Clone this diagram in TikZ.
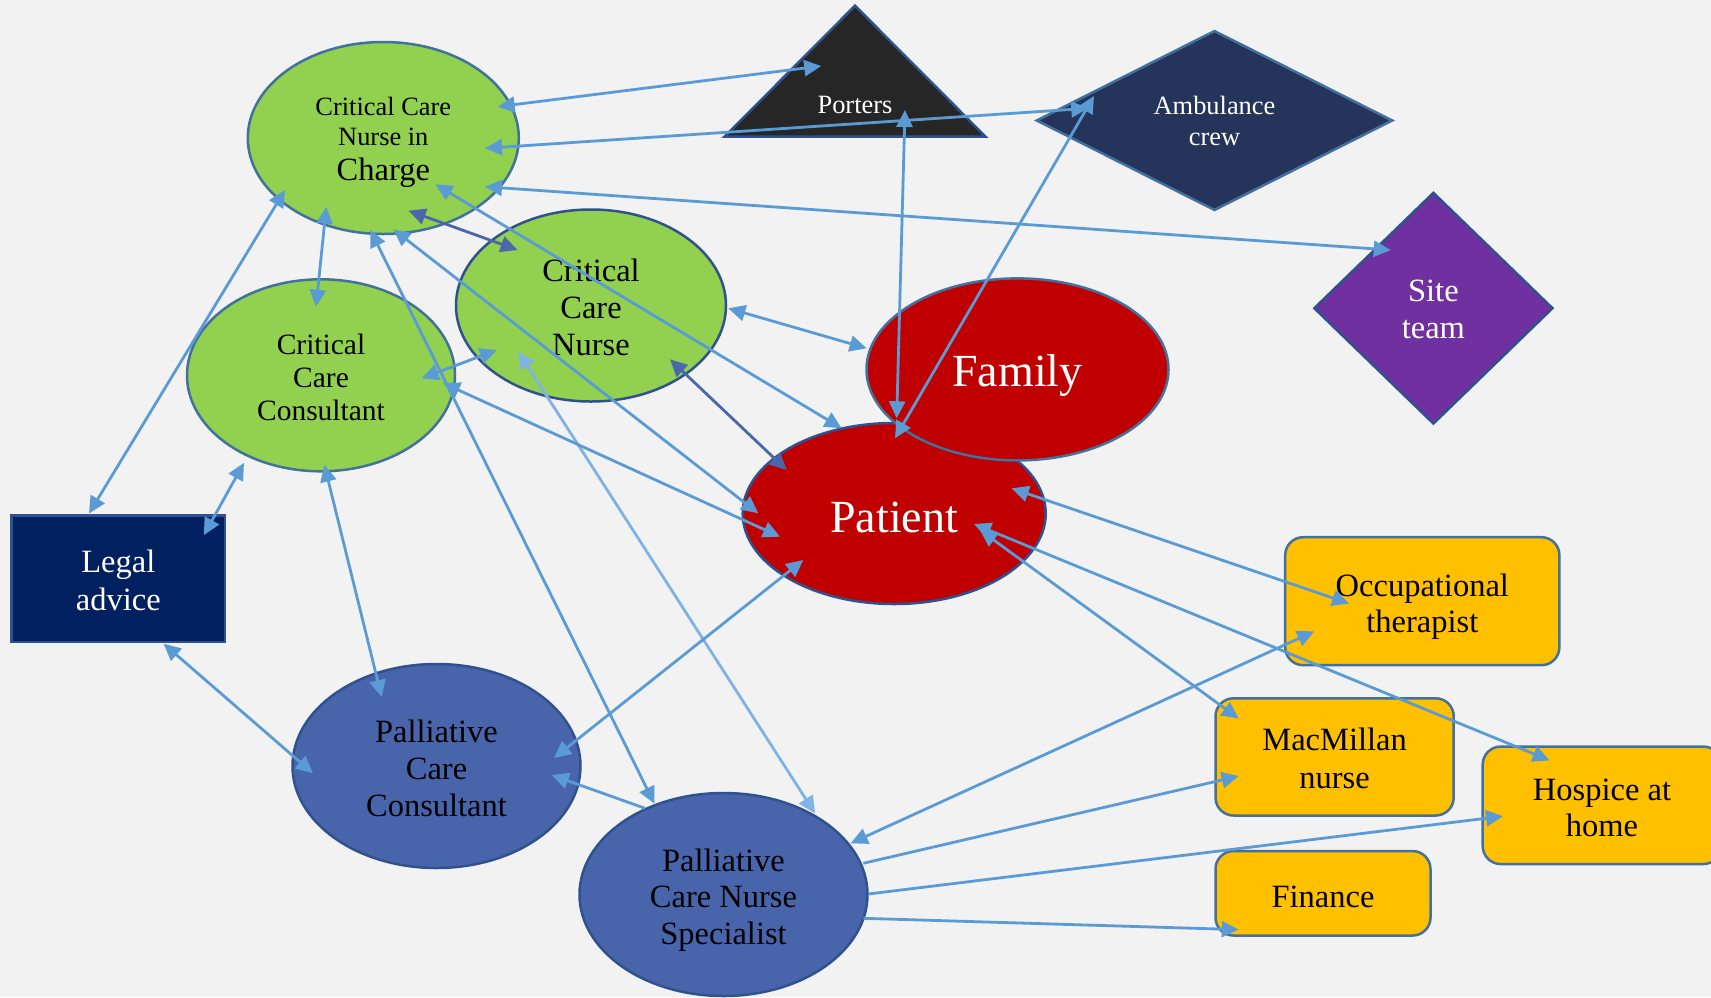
\documentclass[tikz,border=0pt]{standalone}
\usepackage{fontspec}
\setmainfont{Liberation Serif}
\usetikzlibrary{shapes.geometric,arrows.meta,calc}
\definecolor{bgc}{HTML}{F2F2F2}
\definecolor{greenc}{HTML}{92D050}
\definecolor{redc}{HTML}{C00000}
\definecolor{palc}{HTML}{4865AC}
\definecolor{yelc}{HTML}{FFC000}
\definecolor{legalc}{HTML}{002060}
\definecolor{ambc}{HTML}{25345A}
\definecolor{portc}{HTML}{262626}
\definecolor{sitec}{HTML}{7030A0}
\definecolor{bordc}{HTML}{2F528F}
\definecolor{bordl}{HTML}{41719C}
\definecolor{linec}{HTML}{5B9BD5}
\definecolor{lined}{HTML}{4A66AC}
\definecolor{linel}{HTML}{7FB2E5}
\newcommand\mystrut[1]{\rule{0pt}{#1pt}}
\begin{document}
\begin{tikzpicture}[x=1pt,y=-1pt,
  ell/.style={ellipse, draw=bordc, line width=2.5pt, inner sep=0pt, align=center},
  ybox/.style={rectangle, rounded corners=18pt, fill=yelc, draw=bordl, line width=2.5pt, inner sep=0pt, align=center, font=\fontsize{32.5}{36.7}\selectfont},
  big/.style={font=\fontsize{32.5}{36.7}\selectfont},
  conn/.style={draw=linec, line width=2.8pt, {Triangle[length=17pt,width=16pt]}-{Triangle[length=17pt,width=16pt]}},
  conn1/.style={draw=linec, line width=2.8pt, -{Triangle[length=17pt,width=16pt]}}
]
\fill[bgc] (0,0) rectangle (1711,997);
\useasboundingbox (0,0) rectangle (1711,997);

% Porters
\filldraw[fill=portc, draw=bordc, line width=2.5pt] (855,5.7) -- (985.6,136.7) -- (724.5,136.7) -- cycle;
\node[text=white, font=\fontsize{26.4}{30}\selectfont] (porters) at (855,105) {Porters};

% Diamonds
\node[diamond, aspect=1.98, minimum width=356.5pt, minimum height=180pt, fill=ambc, draw=bordl, line width=2.5pt, inner sep=0pt, align=center, text=white, font=\fontsize{26.4}{31}\selectfont] (amb) at (1214.5,120.5) {Ambulance\\crew};
\node[diamond, aspect=1.03, minimum width=239.2pt, minimum height=231.7pt, fill=sitec, draw=bordc, line width=2.5pt, inner sep=0pt, align=center, text=white, big] (site) at (1433.4,308.2) {\mystrut{24.4}Site\\team};

% Green ellipses
\node[ell, fill=greenc, draw=bordl, minimum width=271pt, minimum height=192pt, font=\fontsize{26.4}{30}\selectfont] (ccnic) at (383.3,138) {\mystrut{26.5}Critical Care\\Nurse in\\[5pt]{\fontsize{32.5}{30}\selectfont Charge}};
\node[ell, fill=greenc, draw=bordl, minimum width=268pt, minimum height=192pt, font=\fontsize{29.5}{33}\selectfont] (ccc) at (321,375.3) {\mystrut{24.4}Critical\\Care\\Consultant};
\node[ell, fill=greenc, minimum width=270pt, minimum height=192pt, big] (ccn) at (591,305.5) {\mystrut{26.4}Critical\\Care\\Nurse};

% Red ellipses
\node[ell, fill=redc, minimum width=303pt, minimum height=181pt, text=white, font=\fontsize{46}{50}\selectfont] (patient) at (894.2,513.5) {\mystrut{37.7}Patient};
\node[ell, fill=redc, draw=bordl, minimum width=302pt, minimum height=182pt, text=white, font=\fontsize{46}{50}\selectfont] (family) at (1017.5,369.4) {\mystrut{44.7}Family};

% Palliative ellipses
\node[ell, fill=palc, minimum width=288pt, minimum height=204pt, big] (pcc) at (436.5,766) {\mystrut{27.4}Palliative\\Care\\Consultant};
\node[ell, fill=palc, minimum width=288pt, minimum height=203pt, big] (pcns) at (723.5,894.5) {\mystrut{33.4}Palliative\\Care Nurse\\Specialist};

% Boxes
\node[rectangle, fill=legalc, draw=bordc, line width=2.5pt, inner sep=0pt, minimum width=213.5pt, minimum height=126.4pt, text=white, align=center, font=\fontsize{32.5}{38}\selectfont] (legal) at (118.3,578.6) {\mystrut{26.4}Legal\\advice};
\node[ybox, minimum width=274.2pt, minimum height=128pt] (ot) at (1422.3,601.2) {\mystrut{33.4}Occupational\\therapist};
\node[ybox, minimum width=238.2pt, minimum height=117.2pt, font=\fontsize{32.5}{38.4}\selectfont] (mac) at (1334.6,756.9) {\mystrut{25.4}MacMillan\\nurse};
\node[ybox, minimum width=238.6pt, minimum height=117.5pt] (hospice) at (1602,805.3) {\mystrut{26.4}Hospice at\\home};
\node[ybox, minimum width=215pt, minimum height=84.5pt] (finance) at (1323,893.3) {\mystrut{28.4}Finance};

% Connectors
\draw[conn] ($(ccnic)+(114.4,-31.3)$) -- ($(porters)+(-33.8,-39)$);
\draw[conn] ($(ccnic)+(101.7,10.3)$) -- ($(amb)+(-126.2,-12.2)$);
\draw[conn] ($(ccnic)+(101.7,48.7)$) -- ($(site)+(-42.7,-58.2)$);
\draw[conn, draw=lined] ($(ccnic)+(25.3,72.7)$) -- ($(ccn)+(-73.4,-55.5)$);
\draw[conn] ($(ccnic)+(-57,68.7)$) -- ($(ccc)+(-5,-68.6)$);
\draw[conn] ($(ccnic)+(-98.3,52)$) -- ($(legal)+(-29.3,-65.1)$);
\draw[conn] ($(ccnic)+(52.1,46.3)$) -- ($(patient)+(-52.5,-85.2)$);
\draw[conn] ($(ccnic)+(10,91.3)$) -- ($(patient)+(-135.9,-0.2)$);
\draw[conn] ($(ccnic)+(-13,92)$) -- ($(pcns)+(-69.1,-90.8)$);
\draw[conn] ($(ccn)+(-94.3,44.5)$) -- ($(ccc)+(100.7,3)$);
\draw[conn] ($(ccn)+(137.3,2.8)$) -- ($(family)+(-150.8,-21.1)$);
\draw[conn, draw=lined] ($(ccn)+(79,53.8)$) -- ($(patient)+(-107.5,-43.5)$);
\draw[conn, draw=linel] ($(ccn)+(-72.7,46.2)$) -- ($(pcns)+(91.5,-81.2)$);
\draw[conn] ($(ccc)+(122,7.7)$) -- ($(patient)+(-114.2,23.2)$);
\draw[conn] ($(ccc)+(3.3,89.4)$) -- ($(pcc)+(-54.8,-69)$);
\draw[conn] ($(ccc)+(-77,87.5)$) -- ($(legal)+(85.5,-43.4)$);
\draw[conn] ($(legal)+(45.3,65.1)$) -- ($(pcc)+(-123.6,7.2)$);
\draw[conn] ($(pcc)+(117.5,-8)$) -- ($(patient)+(-90.9,46.5)$);
\draw[conn1] ($(pcns)+(-78.5,-86.2)$) -- ($(pcc)+(115.2,9)$);
\draw[conn] ($(patient)+(117.5,-25.2)$) -- ($(ot)+(-73.2,2.3)$);
\draw[conn] ($(patient)+(79.8,10.5)$) -- ($(hospice)+(-52.4,-44.9)$);
\draw[conn] ($(patient)+(85.8,16.5)$) -- ($(mac)+(-95.9,-38.3)$);
\draw[conn] ($(pcns)+(127.2,-51.2)$) -- ($(ot)+(-108.1,30.2)$);
\draw[conn1] ($(pcns)+(139.8,-31.2)$) -- ($(mac)+(-95.9,19.2)$);
\draw[conn1] ($(pcns)+(144.8,-0.5)$) -- ($(hospice)+(-99,10.9)$);
\draw[conn1] ($(pcns)+(139.8,23.8)$) -- ($(finance)+(-84.3,36.3)$);
\draw[conn] ($(porters)+(50,5)$) -- ($(patient)+(2.5,-95.2)$);
\draw[conn] ($(amb)+(-120.5,-24.5)$) -- ($(patient)+(0.8,-75.2)$);
\end{tikzpicture}
\end{document}
